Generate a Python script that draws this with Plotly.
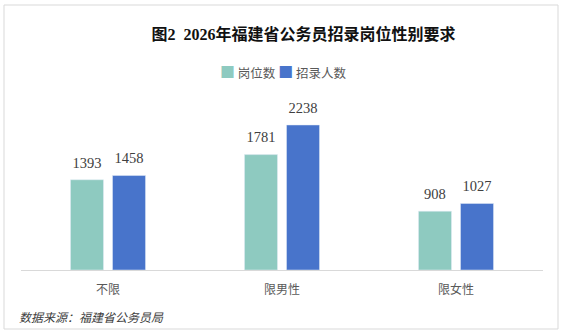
import plotly.graph_objects as go

categories = ["不限", "限男性", "限女性"]
series_names = ["岗位数", "招录人数"]
posts = [1393, 1781, 908]
hires = [1458, 2238, 1027]
colors = ["#8ECAC0", "#4874CB"]

serif = "Liberation Serif, Times New Roman, Noto Sans CJK SC, serif"
sans = "Noto Sans CJK SC, sans-serif"

fig = go.Figure()
for name, vals, c in zip(series_names, [posts, hires], colors):
    fig.add_trace(go.Bar(
        x=categories, y=vals, name=name, marker_color=c, offsetgroup=name,
        showlegend=False,
    ))
for name, vals in zip(series_names, [posts, hires]):
    fig.add_trace(go.Scatter(
        x=categories, y=vals, mode="markers+text", offsetgroup=name,
        marker=dict(size=12, opacity=0), text=[str(v) for v in vals],
        textposition="top center", showlegend=False, hoverinfo="skip",
        textfont=dict(family=serif, size=14.5, color="#404040"), cliponaxis=False,
    ))

legend_html = (f"<span style='color:{colors[0]};font-size:15px'>■</span> {series_names[0]} "
               f"<span style='color:{colors[1]};font-size:15px'>■</span> {series_names[1]}")

fig.update_layout(
    width=562, height=334,
    margin=dict(l=21, r=19, t=90, b=64),
    paper_bgcolor="white", plot_bgcolor="white",
    barmode="group", bargap=0.517, bargroupgap=0.214,
    scattermode="group", scattergap=0.517,
    title=dict(text="<b>图2  2026年福建省公务员招录岗位性别要求</b>",
               x=0.54, xanchor="center", y=0.897, yanchor="middle",
               font=dict(family=serif, size=16, color="#111111")),
    xaxis=dict(showline=True, linecolor="#d9d9d9", linewidth=1, ticks="",
               ticklabelstandoff=9,
               tickfont=dict(family=sans, size=12, color="#595959")),
    yaxis=dict(range=[0, 2778], visible=False, showgrid=False),
    shapes=[dict(type="rect", xref="paper", yref="paper",
                 x0=-17/522, x1=(558-21)/522, y0=-(329-270)/180, y1=(270-5)/180,
                 line=dict(color="#d9d9d9", width=1), fillcolor="rgba(0,0,0,0)", layer="below")],
    annotations=[
        dict(text="<i>数据来源：福建省公务员局</i>", xref="paper", yref="paper",
             x=-4/522, y=-(316-270)/180, xanchor="left", yanchor="middle", showarrow=False,
             font=dict(family=sans, size=12, color="#404040")),
        dict(text=legend_html, xref="paper", yref="paper",
             x=(283-21)/522, y=(270-72)/180, xanchor="center", yanchor="middle", showarrow=False,
             font=dict(family=sans, size=12.5, color="#595959")),
    ],
)

fig.write_html("out.html")
